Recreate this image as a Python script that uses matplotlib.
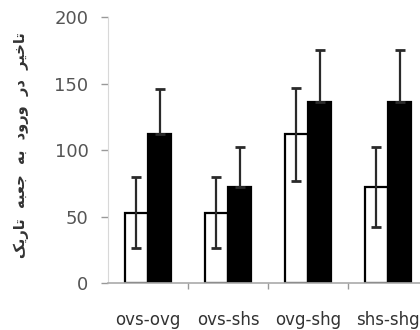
import numpy as np
import matplotlib
matplotlib.use("Agg")
import matplotlib.pyplot as plt
from matplotlib.ticker import FixedLocator

# ---------- Data ----------
categories = ["ovs-ovg", "ovs-shs", "ovg-shg", "shs-shg"]
white_vals = [53, 53, 112, 72]
white_err = [27, 27, 35, 30]
black_vals = [112, 72, 136, 136]
black_err = [34, 30, 39, 39]
y_ticks = [0, 50, 100, 150, 200]

# Persian label "تاخیر در ورود به جعبه تاریک" in shaped, visual (left-to-right) order
words = [
    "\uFB8F\uFEF3\uFEAD\uFE8E\uFE97",  # تاریک
    "\uFEEA\uFE92\uFECC\uFE9F",        # جعبه
    "\uFEEA\uFE91",                    # به
    "\uFEA9\uFEED\uFEAD\uFEED",        # ورود
    "\uFEAD\uFEA9",                    # در
    "\uFEAE\uFEF4\uFEA7\uFE8E\uFE97",  # تاخیر
]
ylabel_text = "  ".join(words)

# ---------- Figure ----------
fig = plt.figure(figsize=(4.2, 3.3), dpi=100)
ax = fig.add_axes([0.257, 0.1424, 0.762, 0.806])

x = np.arange(len(categories))
w = 0.29
err_kw = dict(ecolor="#2a2a2a", elinewidth=1.6, capsize=3.5, capthick=2)

ax.bar(x - w / 2, white_vals, w, color="white", edgecolor="black", linewidth=1.6,
       yerr=white_err, error_kw=err_kw, zorder=2)
# black bars: lower half of the error bar is hidden inside the bar
ax.bar(x + w / 2, black_vals, w, color="black", edgecolor="black", linewidth=1.6,
       yerr=[np.zeros(len(black_err)), black_err], error_kw=err_kw, zorder=2)

ax.set_xlim(-0.5, 3.5)
ax.set_ylim(0, 200)
ax.set_yticks(y_ticks)
ax.set_xticks(x)
ax.set_xticklabels(categories)
ax.xaxis.set_minor_locator(FixedLocator([0.5, 1.5, 2.5]))

ax.tick_params(axis="y", length=5, width=1, color="#999999", pad=9,
               labelsize=13, labelcolor="#555555")
ax.tick_params(axis="x", which="major", length=0, pad=20,
               labelsize=12, labelcolor="#333333")
ax.tick_params(axis="x", which="minor", length=4, width=1, color="#999999")

for s in ["top", "right"]:
    ax.spines[s].set_visible(False)
ax.spines["left"].set_color("#d8d8d8")
ax.spines["bottom"].set_color("#aaaaaa")
ax.spines["bottom"].set_linewidth(1.2)

fig.text(0.05, 0.56, ylabel_text, rotation=90, ha="center", va="center",
         fontsize=10.5, fontweight="bold", color="#333333", family="DejaVu Sans")

fig.savefig("out.png", dpi=100)
